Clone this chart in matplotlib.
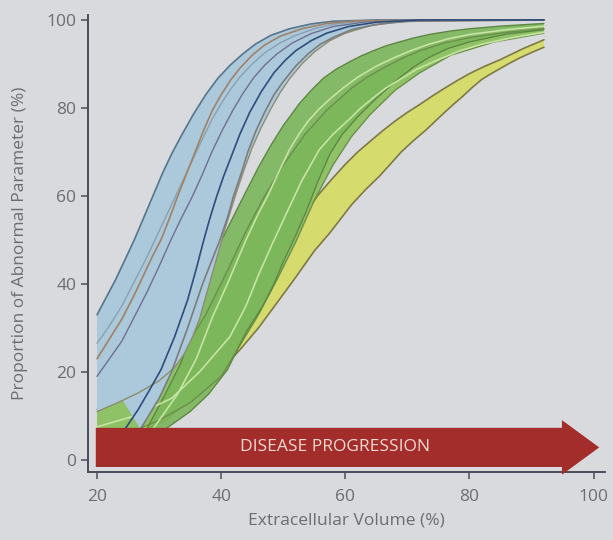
import numpy as np
import matplotlib
matplotlib.use("Agg")
import matplotlib.pyplot as plt
from matplotlib.patches import FancyArrow

# curves as (extracellular volume %, proportion %) points

# blue group
blue_a_upper = [(20, 33), (21.5, 37), (23, 41), (24.5, 45.5), (26, 50), (27.5, 55), (29, 60), (30.5, 65),
                (32, 69.5), (33.7, 74), (35.5, 78.5), (37.5, 83), (39.5, 86.8), (41.5, 89.8), (43.5, 92.3),
                (45.5, 94.5), (48, 96.5), (51, 98), (54.5, 99.1), (58, 99.7), (65, 100), (92, 100)]
blue_a_lower = [(20, 19), (22, 23), (24, 27), (26, 32.5), (28, 38), (30, 44), (31.9, 50), (33.6, 55),
                (35.4, 60), (37, 65), (38.5, 70), (40.2, 75), (41.9, 79.5), (43.5, 83.3), (45.2, 86.8),
                (47, 89.7), (49, 92.3), (51.5, 94.8), (54.5, 96.9), (58, 98.5), (63, 99.5), (70, 100),
                (92, 100)]
blue_b_upper = [(20, 23), (22, 27.5), (24, 32), (26, 37.5), (27.5, 42), (29, 46.5), (30.3, 50), (31.7, 55),
                (33, 60), (34.4, 65), (35.8, 70), (37.2, 75), (38.6, 79.5), (40, 83), (41.5, 86.3),
                (43, 89), (45, 92), (47, 94.3), (49.5, 96.3), (53, 98), (57, 99.2), (62, 99.8), (92, 100)]
blue_b_lower = [(27, 7), (28.5, 10.5), (30, 14), (31, 17), (32, 20), (33.3, 25), (34.6, 30), (35.8, 35),
                (37, 40), (38.4, 45), (39.8, 50), (41, 55), (42, 60), (43.2, 65), (44.3, 70), (45.6, 74.8),
                (47, 79), (48.5, 83), (50, 86), (52, 89.5), (54, 92.3), (56, 94.5), (58, 96), (61, 97.8),
                (65, 99), (70, 99.7), (92, 100)]
blue_c_upper = [(20, 26.5), (22, 30.5), (24, 35), (26, 40.5), (28, 46), (29.5, 50.5), (31, 55), (32.5, 59.5),
                (34, 64), (35.5, 68.5), (37, 73), (38.5, 77.3), (40, 81), (41.5, 84.2), (43, 87), (45, 90),
                (47, 92.5), (49.5, 94.8), (52, 96.5), (55, 98), (58, 99), (63, 99.8), (92, 100)]
blue_c_lower = [(20, 11), (23, 12.8), (26.6, 15.2), (30, 18), (32.5, 21), (34, 24), (35.4, 28), (36.5, 32),
                (37.5, 37), (38.5, 42), (39.5, 47), (40.5, 52), (41.5, 56.5), (42.5, 61), (43.7, 66),
                (45, 71), (46.5, 75.7), (48, 79.8), (49.5, 83.5), (51, 86.6), (53, 90), (55, 92.7),
                (57.5, 95.3), (60, 97), (64, 98.7), (68, 99.5), (75, 100), (92, 100)]
blue_navy = [(24.5, 7), (26.6, 11.4), (28.5, 16), (30.3, 20.5), (32.5, 28), (34.6, 36.4), (36, 43.5),
             (37.2, 50), (38.2, 55), (39.3, 60), (40.4, 64.5), (41.5, 68.5), (43, 74), (44.6, 79),
             (46.5, 83.8), (48.5, 88), (50.3, 90.8), (52, 93), (54.5, 95.3), (57, 97), (60.5, 98.5),
             (65, 99.5), (72, 100), (92, 100)]

# green group
green_a_upper = [(28, 7), (29.5, 11), (31, 15), (33.5, 22), (35.4, 29.5), (37.5, 39), (39.3, 47.7),
                 (41.5, 54), (44, 61), (46, 66.5), (48, 71.5), (50, 76), (52.6, 81), (54.5, 84),
                 (56.5, 86.8), (58.5, 88.8), (60.7, 90.5), (62.5, 91.8), (64.5, 93), (66.5, 94.1),
                 (68.7, 95), (71, 95.9), (73.5, 96.7), (77, 97.5), (80, 98), (85, 98.6), (89.6, 99),
                 (92, 99.2)]
green_a_lower = [(31, 7), (35, 11), (38, 15), (41, 20.5), (44, 29), (46.7, 35), (48.5, 40), (50, 45),
                 (52, 51), (53.8, 56.8), (55.5, 63), (57.5, 69.5), (59.5, 74), (62, 78), (65, 82.2),
                 (68.7, 86.8), (71, 89.3), (73.5, 91.5), (76.5, 93.5), (80, 95), (86, 96.8), (92, 97.8)]
green_a_mid = [(29, 7), (31, 11), (33, 15), (36, 23), (38.6, 32.5), (41, 40), (44, 50), (46, 56),
               (47.5, 60), (49.3, 65.5), (51, 70.5), (52.5, 74), (54, 77), (55.8, 79.8), (57.5, 82),
               (59.7, 84.6), (62, 87), (65, 89.5), (68, 91.5), (70.7, 93.1), (73.5, 94.5), (76.5, 95.7),
               (80, 96.7), (86, 97.8), (92, 98.6)]
green_b_upper = [(20, 11.5), (25, 14.5), (30, 19), (34, 25), (37.5, 33), (41, 43), (44, 52), (47, 60),
                 (50, 67), (53.5, 74), (57, 79.5), (61, 84.5), (63.5, 87), (66, 89), (69, 91.2),
                 (72, 93), (76, 94.8), (80, 96), (86, 97.2), (92, 98)]
green_b_lower = [(20, 4), (25, 6), (30, 9), (35, 13), (40, 19), (43, 26), (46, 33), (49, 41), (52, 49.5),
                 (55, 59), (58, 67), (61, 73.5), (64, 78.5), (68, 84), (72, 88), (77, 92), (84, 95),
                 (92, 97)]
green_b_mid = [(20, 7.5), (26, 10), (32, 14), (36.5, 20), (41.4, 28), (44, 35), (46, 42), (48.2, 49),
               (50.5, 56), (53, 63.5), (55.8, 70.5), (58, 74), (60.7, 77.5), (62.5, 80), (64.5, 82.3),
               (66.5, 84.5), (68.7, 86.4), (71.5, 88.8), (75, 91), (78.5, 93), (82, 94.5), (87, 96),
               (92, 97.2)]

# yellow band
yellow_upper = [(20, 6), (25, 8), (30, 11), (35, 15.5), (40, 22), (44, 30), (47, 38), (49.4, 46),
                (52, 52), (53.8, 56.5), (55.5, 60), (57.5, 63.3), (60, 67.2), (62, 70), (63.9, 72.3),
                (66, 74.8), (68, 77), (70, 79), (72, 80.8), (74, 82.7), (76, 84.5), (78, 86.2),
                (80, 87.8), (82.5, 89.5), (85, 91), (88.5, 93.4), (92, 95.5)]
yellow_lower = [(28, 7), (31, 9), (34, 12.5), (37, 16.5), (40, 20.5), (43, 25), (46, 30), (49.4, 36.5),
                (52, 41.5), (55, 47.5), (57.5, 51.6), (61, 58), (63.3, 61.5), (65.5, 64.5), (67.3, 67.3),
                (69, 70), (71, 72.6), (73, 75), (74.5, 77), (76, 79), (77.4, 80.8), (78.8, 82.5),
                (80.4, 84.6), (82, 86.5), (83.5, 87.8), (85, 89), (86.5, 90.2), (88, 91.3), (90, 92.6),
                (92, 93.8)]

x_ticks = [20, 40, 60, 80, 100]
y_ticks = [0, 20, 40, 60, 80, 100]


def split(points):
    pts = np.asarray(points, dtype=float)
    return pts[:, 0], pts[:, 1]


def draw_band(ax, upper, lower, fill, z, alpha=1.0):
    ux, uy = split(upper)
    lx, ly = split(lower)
    ax.fill(np.concatenate([ux, lx[::-1]]), np.concatenate([uy, ly[::-1]]),
            color=fill, lw=0, zorder=z, alpha=alpha)


def draw_line(ax, points, color, z, lw=1.2):
    x, y = split(points)
    ax.plot(x, y, color=color, lw=lw, zorder=z, solid_capstyle='round', solid_joinstyle='round')


plt.rcParams['font.family'] = ['Open Sans', 'DejaVu Sans']

bg = '#d9dadd'
text_col = '#6c6d72'
axis_col = '#4a4c58'
fig = plt.figure(figsize=(6.13, 5.40), dpi=100, facecolor=bg)
ax = fig.add_axes([0.1436, 0.126, 0.843, 0.846])
ax.set_facecolor(bg)

# yellow first, then green, then blue on top
draw_band(ax, yellow_upper, yellow_lower, '#d6db6e', 1)
draw_line(ax, yellow_upper, '#7d7a45', 1.5)
draw_line(ax, yellow_lower, '#7d7a45', 1.5)

draw_band(ax, green_b_upper, green_b_lower, '#8fc266', 2)
draw_band(ax, green_a_upper, green_a_lower, '#7bb65a', 2.1, alpha=0.9)
draw_line(ax, green_b_upper, '#6b8f4a', 2.5, lw=1.0)
draw_line(ax, green_b_lower, '#6b8f4a', 2.5, lw=1.0)
draw_line(ax, green_a_upper, '#5f8744', 2.5, lw=1.0)
draw_line(ax, green_a_lower, '#5f8744', 2.5, lw=1.0)
draw_line(ax, green_a_mid, '#c6e4a2', 2.6, lw=1.2)
draw_line(ax, green_b_mid, '#c6e4a2', 2.6, lw=1.2)

blue_fill = '#abc9da'
draw_band(ax, blue_c_upper, blue_c_lower, blue_fill, 3)
draw_band(ax, blue_a_upper, blue_a_lower, blue_fill, 3.1)
draw_band(ax, blue_b_upper, blue_b_lower, blue_fill, 3.2)
draw_line(ax, blue_c_lower, '#8e8c70', 3.5, lw=1.0)
draw_line(ax, blue_c_upper, '#8a9fb2', 3.5, lw=1.0)
draw_line(ax, blue_a_upper, '#56758c', 3.5)
draw_line(ax, blue_a_lower, '#6f6f92', 3.5, lw=1.0)
draw_line(ax, blue_b_upper, '#a0826a', 3.5)
draw_line(ax, blue_b_lower, '#7b7c80', 3.5)
draw_line(ax, blue_navy, '#2f4d7c', 3.6)

# disease progression arrow
arrow = FancyArrow(19.8, 2.85, 81.1, 0, width=8.9, head_width=12.4, head_length=6.0,
                   length_includes_head=True, color='#a32d2b', lw=0, zorder=5, clip_on=False)
ax.add_patch(arrow)
ax.text(58.3, 2.9, 'DISEASE PROGRESSION', ha='center', va='center', color='#f2d9d2',
        fontsize=12.5, zorder=6)

ax.set_xlim(18.55, 101.8)
ax.set_ylim(-2.73, 101.1)
ax.set_xticks(x_ticks)
ax.set_yticks(y_ticks)
for side in ['top', 'right']:
    ax.spines[side].set_visible(False)
for side in ['left', 'bottom']:
    ax.spines[side].set_color(axis_col)
    ax.spines[side].set_linewidth(1.4)
ax.tick_params(colors=axis_col, labelcolor=text_col, labelsize=12.5, length=5, width=1.1)
ax.tick_params(axis='x', pad=7)
ax.set_xlabel('Extracellular Volume (%)', color=text_col, fontsize=12.5, labelpad=6)
ax.set_ylabel('Proportion of Abnormal Parameter (%)', color=text_col, fontsize=12.5, labelpad=13)

fig.savefig('out.png', dpi=100, facecolor=bg)
